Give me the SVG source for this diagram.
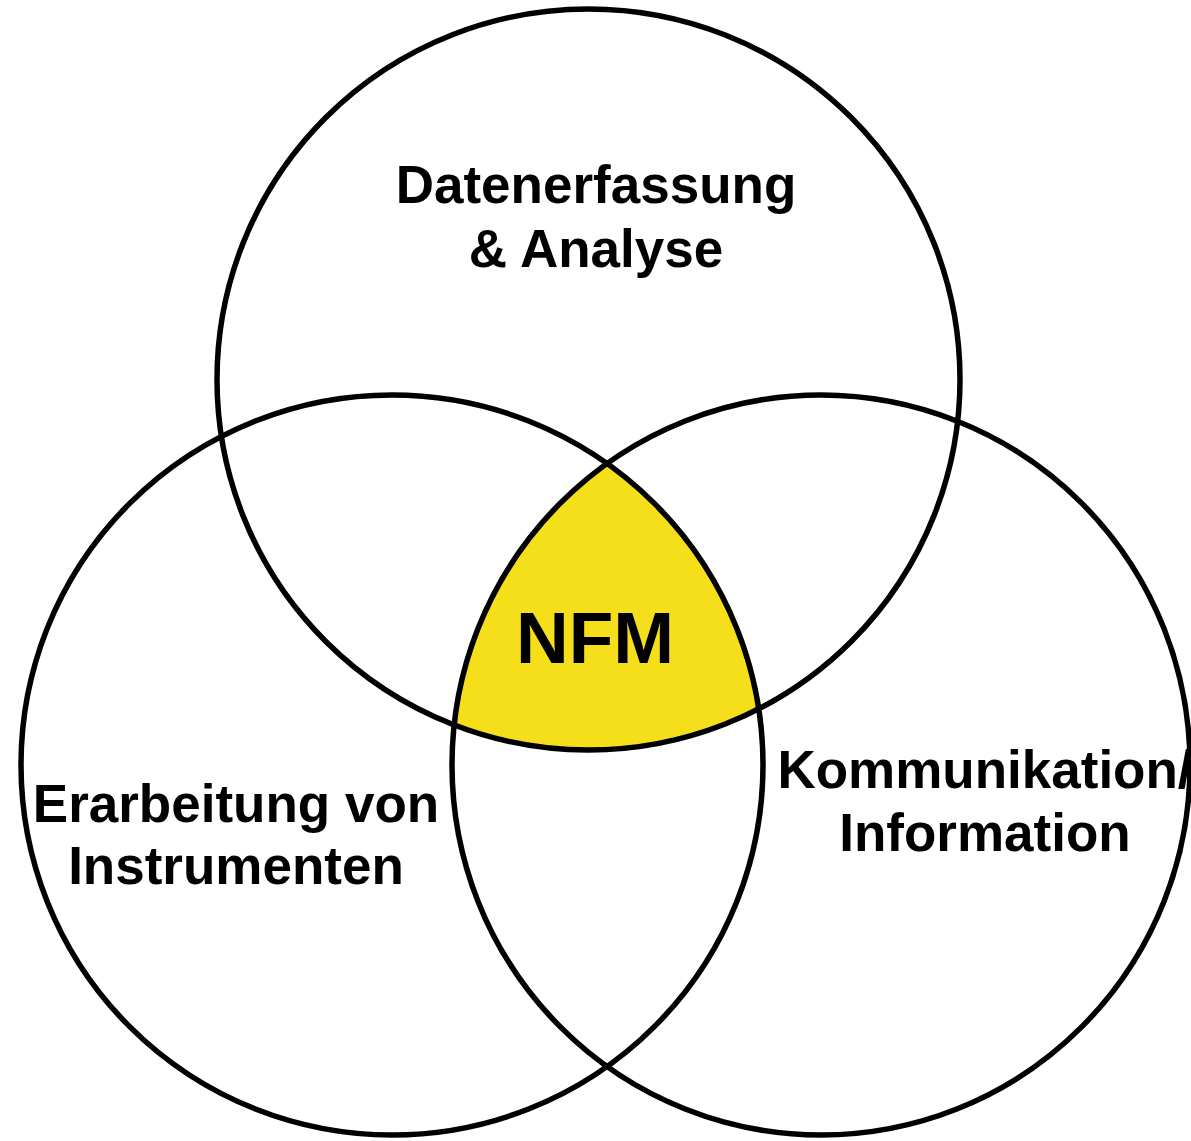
<svg xmlns="http://www.w3.org/2000/svg" width="1191" height="1141" viewBox="0 0 1191 1141">
<style>
.c{fill:none;stroke:#000;stroke-width:5.5}
.t{font-family:"Liberation Sans",Arial,sans-serif;font-weight:bold;font-size:53px;text-anchor:middle;fill:#000}
.n{font-size:73px}
</style>
<defs>
<clipPath id="clipL"><ellipse cx="392" cy="765" rx="371" ry="370"/></clipPath>
<clipPath id="clipR"><ellipse cx="821" cy="765" rx="369" ry="370"/></clipPath>
</defs>
<rect width="1191" height="1141" fill="#fff"/>
<g id="center-fill" clip-path="url(#clipL)">
<g clip-path="url(#clipR)">
<ellipse cx="588.5" cy="379.5" rx="371.5" ry="370.5" fill="#F4DF1A"/>
</g>
</g>
<g id="connectors"></g>
<g id="top"><ellipse class="c" cx="588.5" cy="379.5" rx="371.5" ry="370.5"/>
<text class="t" x="596" y="203">Datenerfassung</text>
<text class="t" x="596" y="267">&amp; Analyse</text></g>
<g id="left"><ellipse class="c" cx="392" cy="765" rx="371" ry="370"/>
<text class="t" x="236" y="822">Erarbeitung von</text>
<text class="t" x="236" y="884">Instrumenten</text></g>
<g id="right"><ellipse class="c" cx="821" cy="765" rx="369" ry="370"/>
<text class="t" x="985" y="788">Kommunikation/</text>
<text class="t" x="985" y="851">Information</text></g>
<g id="nfm"><text class="t n" x="595" y="663">NFM</text></g>
</svg>
